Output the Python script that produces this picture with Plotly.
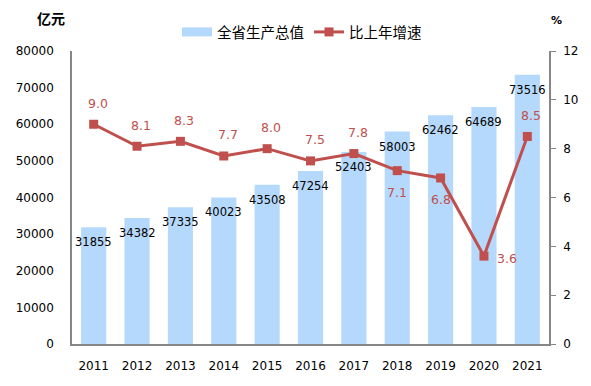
import plotly.graph_objects as go

years = [2011, 2012, 2013, 2014, 2015, 2016, 2017, 2018, 2019, 2020, 2021]
gdp = [31855, 34382, 37335, 40023, 43508, 47254, 52403, 58003, 62462, 64689, 73516]
growth = [9.0, 8.1, 8.3, 7.7, 8.0, 7.5, 7.8, 7.1, 6.8, 3.6, 8.5]
growth_pos = ["top", "top", "top", "top", "top", "top", "top", "bottom", "bottom", "right", "top"]

FONT = "DejaVu Sans"
CJK = "Noto Sans CJK SC"
BAR = "rgb(181,217,252)"
RED = "rgb(192,80,77)"

# the page body adds an 8px margin, so the figure is 8px smaller than the window
W, H = 583, 378

fig = go.Figure()
fig.add_trace(go.Bar(x=years, y=gdp, name="全省生产总值", marker=dict(color=BAR, line=dict(width=0)),
                     width=0.58, yaxis="y", showlegend=False))
# legend-only entry so the bar swatch is a wide rectangle like the reference
fig.add_trace(go.Scatter(x=[None], y=[None], name="全省生产总值", mode="lines",
                         line=dict(color=BAR, width=9), yaxis="y"))
fig.add_trace(go.Scatter(x=years, y=growth, name="比上年增速", mode="lines+markers", yaxis="y2",
                         line=dict(color=RED, width=3), marker=dict(symbol="square", size=9, color=RED)))

ann = []
for xv, v in zip(years, gdp):
    ann.append(dict(x=xv, y=v, xref="x", yref="y", text=str(v), showarrow=False, yshift=-15,
                    font=dict(family=FONT, size=11.5, color="black")))
for xv, v, p in zip(years, growth, growth_pos):
    d = dict(x=xv, y=v, xref="x", yref="y2", text=f"{v:.1f}", showarrow=False,
             font=dict(family=FONT, size=12.5, color=RED))
    if p == "top":
        d["yshift"] = 21
        d["xshift"] = 4
    elif p == "bottom":
        d["yshift"] = -22
    else:
        d["xshift"] = 23
        d["yshift"] = -2
    ann.append(d)
ann.append(dict(xref="paper", yref="paper", x=-0.078, y=1.154, text="<b>亿元</b>", showarrow=False,
                font=dict(family=CJK, size=14, color="black")))
ann.append(dict(xref="paper", yref="paper", x=1.031, y=1.132, text="<b>%</b>", showarrow=False,
                font=dict(family=FONT, size=11, color="black")))

fig.update_layout(
    width=W, height=H,
    margin=dict(l=64, r=42, t=43, b=42, autoexpand=False),
    paper_bgcolor="white", plot_bgcolor="white",
    font=dict(family=FONT, size=12, color="black"),
    showlegend=True,
    legend=dict(orientation="h", x=294 / W, xanchor="center", xref="container",
                y=1 - 24 / H, yanchor="middle", yref="container",
                font=dict(family=CJK, size=14.5), itemwidth=30, tracegroupgap=0,
                bgcolor="rgba(0,0,0,0)"),
    xaxis=dict(range=[years[0] - 0.5, years[-1] + 0.5], tickmode="array", tickvals=years,
               ticktext=[str(y) for y in years], showline=True, linecolor="#868686", linewidth=1.5,
               ticks="", showgrid=False, zeroline=False, tickfont=dict(size=12),
               automargin=False, ticklabelstandoff=10),
    yaxis=dict(range=[0, 80000], dtick=10000, tickformat="d", showline=True, linecolor="#868686",
               linewidth=1.5, showgrid=False, ticks="", tickfont=dict(size=12),
               zeroline=False, automargin=False, ticklabelstandoff=14),
    yaxis2=dict(range=[0, 12], dtick=2, overlaying="y", side="right", showline=True,
                linecolor="#868686", linewidth=1.5, ticks="outside", ticklen=5, tickcolor="#868686",
                showgrid=False, zeroline=False, tickfont=dict(size=12), automargin=False,
                ticklabelstandoff=5),
    annotations=ann,
)
fig.write_html("out.html")
